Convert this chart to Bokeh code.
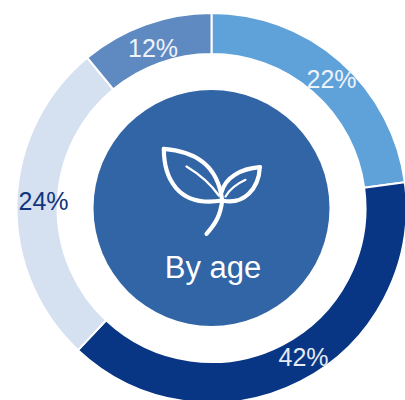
import math
from bokeh.plotting import figure
from bokeh.embed import file_html
from bokeh.resources import INLINE
from bokeh.core.properties import value

# Arc shares as drawn in the picture (they differ slightly from the printed labels)
categories = ["a", "b", "c", "d"]
arc_shares = [22.9, 39.1, 27.0, 11.0]
labels = ["22%", "42%", "24%", "12%"]
colors = ["#5FA2DA", "#083684", "#D5E0F0", "#5F8AC1"]
label_colors = ["#EEF3FA", "#E4EAF4", "#12347F", "#EEF3FA"]
title = "By age"

CX, CY = 211.0, 207.5  # centre in picture pixels
W, H = 405, 400
X = lambda px: px - CX
Y = lambda py: CY - py

p = figure(width=W, height=H, output_backend="svg", toolbar_location=None,
           x_range=(X(0), X(W)), y_range=(Y(H), Y(0)),
           min_border=0, outline_line_color=None, background_fill_color="white")
p.axis.visible = False
p.grid.visible = False

total = sum(arc_shares)
angle = math.pi / 2
for s, c in zip(arc_shares, colors):
    end = angle - 2 * math.pi * s / total
    p.annular_wedge(0, 0, inner_radius=154, outer_radius=195, start_angle=end, end_angle=angle,
                    fill_color=c, line_color="white", line_width=2)
    angle = end

p.circle(0, 0, radius=118, fill_color="#3165A5", line_color=None)

label_px = [(331, 78), (303, 356), (43, 200), (152.5, 47)]
for t, c, (lx, ly) in zip(labels, label_colors, label_px):
    p.text([X(lx)], [Y(ly)], text=[t], text_color=c, text_font=value("Liberation Sans"),
           text_font_size="25px", text_align="center", text_baseline="middle")

p.text([X(212.5)], [Y(267)], text=[title], text_color="white", text_font=value("Liberation Sans"),
       text_font_size="31px", text_align="center", text_baseline="middle")

# Leaf icon outline: cubic segments in zoom-crop coordinates
def zx(v): return X(130 + v / 3)
def zy(v): return Y(120 + v / 3)
icon_thick = [
    [(100, 85), (190, 92), (262, 130), (275, 240)],
    [(100, 85), (100, 170), (140, 262), (275, 240)],
    [(388, 140), (330, 145), (285, 170), (273, 215)],
    [(388, 140), (385, 205), (340, 255), (275, 240)],
    [(275, 240), (270, 285), (255, 310), (228, 340)],
]
icon_thin = [
    [(168, 138), (205, 160), (240, 190), (265, 225)],
    [(345, 178), (315, 192), (298, 205), (285, 228)],
]
for segs, lw in ((icon_thick, 4.2), (icon_thin, 2.2)):
    for s in segs:
        p.bezier(x0=[zx(s[0][0])], y0=[zy(s[0][1])], x1=[zx(s[3][0])], y1=[zy(s[3][1])],
                 cx0=[zx(s[1][0])], cy0=[zy(s[1][1])], cx1=[zx(s[2][0])], cy1=[zy(s[2][1])],
                 line_color="white", line_width=lw, line_cap="round")

open("out.html", "w").write(file_html(p, INLINE))
